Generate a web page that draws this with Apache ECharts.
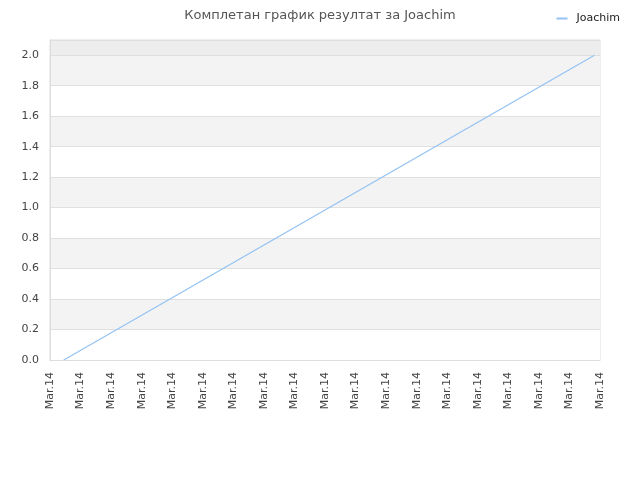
<!DOCTYPE html>
<html>
<head>
<meta charset="utf-8">
<script src="https://cdn.jsdelivr.net/npm/echarts@6/dist/echarts.min.js"></script>
<style>
html, body { margin: 0; padding: 0; background: #fff; }
#Result { width: 640px; height: 480px; }
</style>
</head>
<body>
<div id="Result"></div>
<script>
// x positions are in label slots (0..18)
var tickLabels = ['Mar.14', 'Mar.14', 'Mar.14', 'Mar.14', 'Mar.14', 'Mar.14', 'Mar.14', 'Mar.14', 'Mar.14', 'Mar.14',
    'Mar.14', 'Mar.14', 'Mar.14', 'Mar.14', 'Mar.14', 'Mar.14', 'Mar.14', 'Mar.14', 'Mar.14'];
var pointX = [0.45, 17.82];
var pointY = [0.0, 2.0];
var seriesName = 'Joachim';

var lineData = [];
for (var i = 0; i < pointX.length; i++) {
    lineData.push([pointX[i], pointY[i]]);
}

var dom = document.getElementById("Result");
var myChart = echarts.init(dom, null, {renderer: 'canvas'});
var txtFont = 'DejaVu Sans';

option = {
    animation: false,
    title: {
        text: 'Комплетан график резултат за Joachim',
        left: 'center',
        top: 4,
        textStyle: {fontFamily: txtFont, fontSize: 13, fontWeight: 'normal', color: '#555'}
    },
    legend: {
        data: [seriesName],
        right: 15,
        top: 8,
        itemWidth: 11,
        itemHeight: 2,
        icon: 'rect',
        textStyle: {fontFamily: txtFont, fontSize: 11, color: '#222', padding: [0, 0, 0, 4]}
    },
    grid: {
        left: 50,
        right: 40,
        top: 40,
        bottom: 120,
        show: true,
        borderColor: '#ddd',
        borderWidth: 1
    },
    xAxis: {
        type: 'value',
        min: 0,
        max: tickLabels.length - 1,
        interval: 1,
        axisLine: {show: true, lineStyle: {color: '#ddd'}},
        axisTick: {show: false},
        splitLine: {show: false},
        axisLabel: {
            rotate: 90,
            margin: 12,
            fontFamily: txtFont,
            fontSize: 11,
            color: '#444',
            showMinLabel: true,
            showMaxLabel: true,
            formatter: function (v) { return tickLabels[Math.round(v)]; }
        }
    },
    yAxis: {
        type: 'value',
        min: 0,
        max: 2.1,
        interval: 0.2,
        axisLine: {show: true, lineStyle: {color: '#ddd'}},
        axisTick: {show: false},
        splitLine: {show: true, lineStyle: {color: '#e0e0e0'}},
        splitArea: {
            show: true,
            areaStyle: {color: ['#ffffff', '#f3f3f3', '#ffffff', '#f3f3f3', '#ffffff', '#f3f3f3',
                '#ffffff', '#f3f3f3', '#ffffff', '#f3f3f3', '#ededed']}
        },
        axisLabel: {
            margin: 11,
            fontFamily: txtFont,
            fontSize: 11,
            color: '#444',
            showMaxLabel: false,
            formatter: function (v) { return v.toFixed(1); }
        }
    },
    series: [
        {
            name: seriesName,
            type: 'line',
            data: lineData,
            symbol: 'none',
            lineStyle: {width: 1.3, color: '#94c3f3'},
            itemStyle: {color: '#94c3f3'}
        }
    ]
};

if (option && typeof option === "object") {
    myChart.setOption(option, true);
}
</script>
</body>
</html>
